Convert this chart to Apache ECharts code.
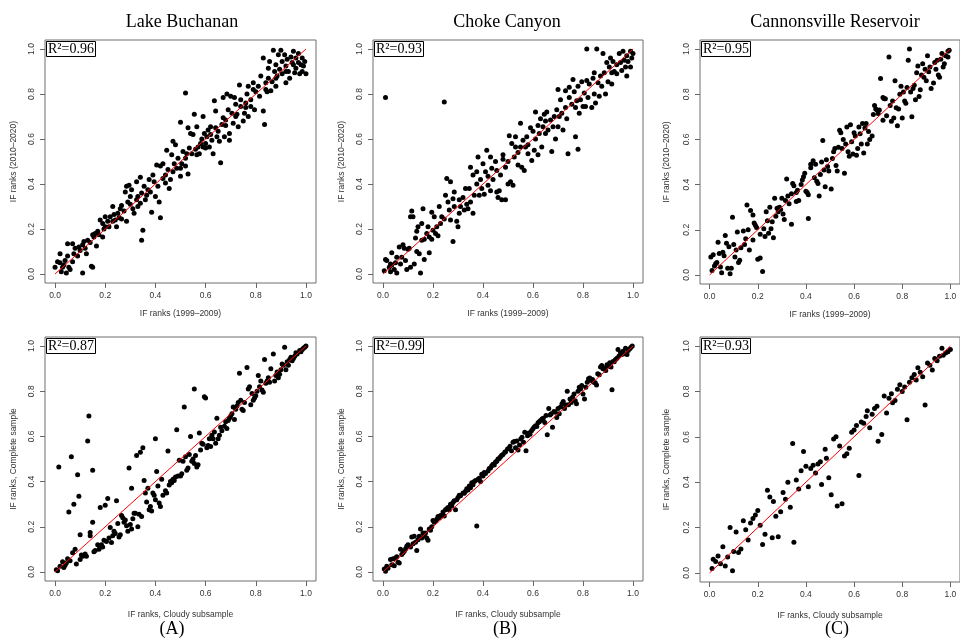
<!DOCTYPE html>
<html>
<head>
<meta charset="utf-8">
<script src="https://cdn.jsdelivr.net/npm/echarts@6/dist/echarts.min.js"></script>
<style>
html, body { margin: 0; padding: 0; background: #fff; }
#chart { width: 960px; height: 638px; }
</style>
</head>
<body>
<div id="chart"></div>
<script>
// texte et graduations
var panelTitles = ['Lake Buchanan', 'Choke Canyon', 'Cannonsville Reservoir'];
var panelLetters = ['(A)', '(B)', '(C)'];
var r2Labels = ['R²=0.96', 'R²=0.93', 'R²=0.95', 'R²=0.87', 'R²=0.99', 'R²=0.93'];
var tickValues = [0, 0.2, 0.4, 0.6, 0.8, 1.0];
var xNames = ['IF ranks (1999–2009)', 'IF ranks, Cloudy subsample'];
var yNames = ['IF ranks (2010–2020)', 'IF ranks, Complete sample'];
var fitLine = [[0, 0], [1, 1]];

// rangs 1999-2009 vs 2010-2020
var buchananPeriods = [
  [0.01,0.055],[0.00,0.03],[0.02,0.05],[0.02,0.09],[0.03,0.03],[0.025,0.01],[0.035,0.04],[0.04,0.06],[0.05,0.08],[0.045,0.005],
  [0.055,0.03],[0.06,0.02],[0.07,0.055],[0.05,0.135],[0.07,0.135],[0.075,0.09],[0.08,0.115],[0.09,0.08],[0.095,0.12],[0.10,0.105],
  [0.11,0.13],[0.115,0.145],[0.12,0.115],[0.11,0.005],[0.125,0.09],[0.13,0.15],[0.14,0.14],[0.145,0.035],[0.15,0.03],[0.15,0.175],
  [0.155,0.165],[0.16,0.18],[0.165,0.125],[0.17,0.19],[0.175,0.175],[0.18,0.24],[0.19,0.225],[0.19,0.165],[0.195,0.2],[0.20,0.255],
  [0.21,0.235],[0.215,0.21],[0.22,0.255],[0.23,0.30],[0.23,0.235],[0.235,0.265],[0.245,0.21],[0.25,0.27],[0.255,0.25],[0.26,0.29],
  [0.265,0.245],[0.265,0.305],[0.275,0.28],[0.28,0.365],[0.285,0.39],[0.285,0.235],[0.29,0.32],[0.295,0.395],[0.30,0.345],[0.305,0.375],
  [0.31,0.29],[0.315,0.27],[0.325,0.33],[0.325,0.41],[0.33,0.345],[0.34,0.315],[0.34,0.43],[0.345,0.36],[0.35,0.195],[0.345,0.15],
  [0.355,0.39],[0.36,0.33],[0.365,0.35],[0.37,0.375],[0.375,0.42],[0.38,0.365],[0.385,0.275],[0.39,0.44],[0.395,0.41],[0.40,0.345],
  [0.405,0.485],[0.41,0.39],[0.415,0.32],[0.42,0.25],[0.42,0.48],[0.43,0.425],[0.43,0.49],[0.44,0.405],[0.445,0.55],[0.45,0.465],
  [0.455,0.38],[0.46,0.42],[0.465,0.53],[0.47,0.59],[0.475,0.49],[0.48,0.575],[0.485,0.47],[0.49,0.515],[0.50,0.435],[0.50,0.675],
  [0.505,0.49],[0.51,0.545],[0.52,0.48],[0.52,0.805],[0.525,0.535],[0.53,0.445],[0.53,0.65],[0.535,0.56],[0.54,0.625],[0.545,0.535],
  [0.55,0.62],[0.555,0.71],[0.56,0.555],[0.565,0.53],[0.565,0.655],[0.57,0.565],[0.575,0.535],[0.585,0.60],[0.59,0.70],[0.59,0.565],
  [0.595,0.625],[0.60,0.58],[0.605,0.61],[0.61,0.64],[0.615,0.565],[0.62,0.655],[0.625,0.595],[0.63,0.535],[0.635,0.77],[0.64,0.725],
  [0.64,0.65],[0.645,0.61],[0.65,0.635],[0.655,0.59],[0.66,0.495],[0.665,0.665],[0.67,0.695],[0.67,0.785],[0.675,0.61],[0.68,0.685],
  [0.685,0.80],[0.69,0.73],[0.695,0.625],[0.695,0.595],[0.70,0.79],[0.705,0.715],[0.71,0.67],[0.715,0.785],[0.72,0.755],[0.725,0.71],
  [0.73,0.655],[0.735,0.84],[0.74,0.745],[0.74,0.775],[0.75,0.68],[0.755,0.715],[0.76,0.76],[0.765,0.80],[0.77,0.70],[0.77,0.835],
  [0.78,0.745],[0.78,0.775],[0.79,0.82],[0.79,0.85],[0.795,0.73],[0.80,0.81],[0.81,0.835],[0.815,0.79],[0.82,0.88],[0.83,0.96],
  [0.83,0.725],[0.835,0.665],[0.84,0.85],[0.845,0.81],[0.85,0.915],[0.85,0.87],[0.855,0.945],[0.86,0.815],[0.865,0.855],[0.87,0.995],
  [0.875,0.90],[0.88,0.835],[0.88,0.93],[0.885,0.88],[0.89,0.975],[0.895,0.91],[0.90,0.995],[0.905,0.945],[0.905,0.89],[0.915,0.975],
  [0.92,0.85],[0.92,0.925],[0.925,0.955],[0.93,0.90],[0.935,0.87],[0.94,0.965],[0.945,0.94],[0.95,0.99],[0.955,0.895],[0.96,0.96],
  [0.96,0.915],[0.97,0.94],[0.97,0.98],[0.975,0.89],[0.98,0.93],[0.985,0.96],[0.985,0.90],[0.99,0.925],[0.995,0.945],[1.0,0.89],
  [0.58,0.58],[0.60,0.56],[0.50,0.47],[0.47,0.455],[0.52,0.515],[0.33,0.30],[0.30,0.31],[0.24,0.24],[0.20,0.21],[0.44,0.44],
  [0.62,0.62],[0.68,0.66],[0.72,0.70],[0.76,0.74],[0.84,0.82],[0.88,0.87],[0.92,0.90],[0.95,0.93]
];
var chokePeriods = [
  [0.01,0.785],[0.245,0.765],[0.15,0.005],[0.28,0.145],
  [0.005,0.015],[0.01,0.065],[0.015,0.06],[0.025,0.03],[0.03,0.045],[0.03,0.01],[0.035,0.04],[0.035,0.095],[0.045,0.02],[0.05,0.05],
  [0.055,0.005],[0.055,0.075],[0.065,0.12],[0.07,0.045],[0.075,0.075],[0.08,0.13],[0.085,0.115],[0.09,0.06],[0.095,0.02],[0.10,0.11],
  [0.105,0.115],[0.11,0.255],[0.115,0.28],[0.11,0.03],[0.12,0.255],[0.125,0.045],[0.13,0.16],[0.135,0.10],[0.135,0.19],[0.14,0.21],
  [0.145,0.09],[0.155,0.15],[0.155,0.225],[0.16,0.29],[0.165,0.065],[0.165,0.155],[0.175,0.18],[0.18,0.21],[0.185,0.095],[0.185,0.165],
  [0.195,0.275],[0.195,0.155],[0.20,0.195],[0.205,0.255],[0.21,0.18],[0.215,0.21],[0.22,0.17],[0.225,0.30],[0.23,0.225],[0.235,0.255],
  [0.245,0.245],[0.25,0.35],[0.255,0.425],[0.26,0.32],[0.265,0.285],[0.27,0.41],[0.27,0.24],[0.28,0.335],[0.285,0.365],[0.285,0.30],
  [0.295,0.235],[0.30,0.21],[0.305,0.33],[0.305,0.27],[0.31,0.30],[0.32,0.34],[0.325,0.285],[0.33,0.38],[0.335,0.31],[0.34,0.29],
  [0.345,0.38],[0.35,0.475],[0.35,0.32],[0.36,0.44],[0.36,0.27],[0.365,0.35],[0.375,0.455],[0.375,0.40],[0.38,0.52],[0.385,0.35],
  [0.39,0.42],[0.395,0.38],[0.40,0.49],[0.405,0.355],[0.41,0.455],[0.415,0.55],[0.42,0.395],[0.42,0.435],[0.43,0.52],[0.43,0.37],
  [0.435,0.47],[0.44,0.42],[0.45,0.50],[0.455,0.365],[0.455,0.46],[0.46,0.34],[0.465,0.37],[0.47,0.44],[0.475,0.33],[0.48,0.51],
  [0.48,0.53],[0.49,0.33],[0.49,0.475],[0.50,0.40],[0.50,0.50],[0.505,0.615],[0.51,0.41],[0.515,0.58],[0.52,0.395],[0.525,0.52],
  [0.53,0.61],[0.53,0.565],[0.54,0.485],[0.54,0.54],[0.55,0.67],[0.55,0.565],[0.555,0.475],[0.56,0.595],[0.565,0.46],[0.57,0.565],
  [0.575,0.61],[0.58,0.535],[0.58,0.575],[0.59,0.65],[0.595,0.505],[0.60,0.635],[0.605,0.55],[0.61,0.72],[0.61,0.60],[0.62,0.66],
  [0.62,0.53],[0.625,0.625],[0.63,0.69],[0.635,0.565],[0.64,0.655],[0.645,0.71],[0.65,0.625],[0.65,0.68],[0.655,0.72],[0.66,0.64],
  [0.67,0.685],[0.675,0.545],[0.68,0.655],[0.685,0.70],[0.69,0.60],[0.695,0.73],[0.70,0.655],[0.70,0.82],[0.705,0.70],[0.71,0.775],
  [0.715,0.715],[0.72,0.64],[0.73,0.74],[0.73,0.815],[0.735,0.69],[0.74,0.535],[0.745,0.785],[0.745,0.83],[0.755,0.755],[0.76,0.865],
  [0.765,0.81],[0.77,0.74],[0.77,0.61],[0.775,0.77],[0.78,0.555],[0.78,0.835],[0.785,0.715],[0.79,0.775],[0.795,0.855],[0.80,0.745],
  [0.805,0.805],[0.81,0.745],[0.815,0.86],[0.815,1.0],[0.82,0.785],[0.825,0.845],[0.835,0.74],[0.84,0.87],[0.845,0.80],[0.845,0.895],
  [0.85,0.76],[0.855,1.0],[0.86,0.85],[0.865,0.79],[0.87,0.88],[0.875,0.835],[0.88,0.98],[0.885,0.895],[0.89,0.80],[0.895,0.94],
  [0.90,0.855],[0.905,0.92],[0.91,0.96],[0.915,0.845],[0.915,0.895],[0.92,0.945],[0.925,0.90],[0.935,0.93],[0.935,0.89],[0.945,0.98],
  [0.95,0.94],[0.955,0.905],[0.96,0.99],[0.965,0.95],[0.97,0.92],[0.975,0.88],[0.975,0.97],[0.98,0.945],[0.99,0.99],[0.99,0.92],
  [0.995,0.96],[1.0,0.98]
];
var cannonsvillePeriods = [
  [0.005,0.08],[0.015,0.09],[0.01,0.02],[0.02,0.04],[0.025,0.05],[0.03,0.055],[0.035,0.145],[0.04,0.095],[0.045,0.035],[0.05,0.01],
  [0.055,0.10],[0.06,0.085],[0.065,0.175],[0.07,0.14],[0.075,0.03],[0.08,0.125],[0.085,0.005],[0.09,0.03],[0.095,0.255],[0.10,0.135],
  [0.105,0.08],[0.11,0.11],[0.115,0.19],[0.12,0.055],[0.125,0.065],[0.13,0.12],[0.14,0.195],[0.145,0.135],[0.15,0.16],[0.155,0.31],
  [0.16,0.20],[0.165,0.11],[0.17,0.285],[0.18,0.265],[0.18,0.155],[0.185,0.23],[0.19,0.22],[0.195,0.21],[0.20,0.07],[0.21,0.075],
  [0.21,0.18],[0.22,0.015],[0.225,0.205],[0.23,0.17],[0.235,0.28],[0.24,0.24],[0.245,0.185],[0.25,0.30],[0.255,0.205],[0.26,0.235],
  [0.265,0.165],[0.27,0.34],[0.275,0.26],[0.28,0.295],[0.285,0.28],[0.29,0.30],[0.295,0.29],[0.30,0.34],[0.305,0.27],[0.31,0.245],
  [0.315,0.33],[0.32,0.425],[0.325,0.35],[0.33,0.315],[0.34,0.36],[0.34,0.225],[0.345,0.405],[0.35,0.395],[0.36,0.365],[0.36,0.325],
  [0.365,0.375],[0.37,0.33],[0.38,0.40],[0.385,0.42],[0.39,0.435],[0.395,0.45],[0.40,0.37],[0.405,0.365],[0.41,0.355],[0.41,0.25],
  [0.42,0.49],[0.42,0.475],[0.43,0.505],[0.435,0.43],[0.44,0.49],[0.445,0.415],[0.45,0.405],[0.455,0.35],[0.46,0.445],[0.465,0.50],
  [0.47,0.595],[0.475,0.465],[0.48,0.39],[0.485,0.51],[0.49,0.48],[0.495,0.46],[0.505,0.38],[0.51,0.515],[0.515,0.545],[0.52,0.56],
  [0.525,0.485],[0.53,0.46],[0.535,0.565],[0.54,0.64],[0.545,0.63],[0.55,0.56],[0.555,0.60],[0.56,0.45],[0.565,0.58],[0.57,0.655],
  [0.575,0.545],[0.58,0.525],[0.585,0.665],[0.59,0.59],[0.595,0.535],[0.60,0.63],[0.605,0.615],[0.61,0.53],[0.615,0.56],[0.62,0.655],
  [0.625,0.625],[0.63,0.58],[0.635,0.67],[0.64,0.54],[0.645,0.65],[0.65,0.67],[0.655,0.58],[0.66,0.635],[0.665,0.60],[0.675,0.615],
  [0.68,0.71],[0.685,0.75],[0.69,0.735],[0.695,0.73],[0.70,0.715],[0.705,0.73],[0.71,0.87],[0.72,0.785],[0.72,0.685],[0.725,0.78],
  [0.73,0.78],[0.735,0.705],[0.745,0.965],[0.75,0.75],[0.755,0.68],[0.76,0.77],[0.765,0.695],[0.77,0.86],[0.775,0.74],[0.78,0.66],
  [0.785,0.735],[0.79,0.80],[0.795,0.835],[0.80,0.695],[0.805,0.81],[0.81,0.77],[0.815,0.76],[0.82,0.83],[0.825,0.95],[0.83,1.0],
  [0.835,0.81],[0.84,0.70],[0.845,0.825],[0.85,0.84],[0.855,0.775],[0.86,0.895],[0.865,0.925],[0.87,0.79],[0.875,0.82],[0.88,0.885],
  [0.885,0.935],[0.89,0.875],[0.895,0.91],[0.90,0.86],[0.905,0.97],[0.91,0.90],[0.915,0.92],[0.92,0.825],[0.93,0.85],[0.935,0.94],
  [0.94,0.91],[0.945,0.95],[0.95,0.885],[0.955,0.875],[0.96,0.955],[0.965,0.98],[0.97,0.92],[0.975,0.935],[0.98,0.97],[0.99,0.99],
  [0.99,0.965],[0.995,0.995]
];

// rangs sous-echantillon nuageux vs echantillon complet
var buchananCloudy = [
  [0.005,0.01],[0.01,0.005],[0.02,0.025],[0.015,0.465],[0.03,0.045],[0.035,0.02],[0.04,0.03],[0.045,0.04],[0.05,0.058],[0.055,0.265],
  [0.06,0.05],[0.065,0.51],[0.07,0.085],[0.075,0.30],[0.08,0.10],[0.085,0.035],[0.09,0.43],[0.095,0.335],[0.10,0.055],[0.10,0.165],
  [0.105,0.075],[0.11,0.07],[0.12,0.08],[0.125,0.07],[0.13,0.58],[0.135,0.69],[0.14,0.175],[0.14,0.16],[0.15,0.22],[0.15,0.45],
  [0.155,0.09],[0.16,0.095],[0.17,0.12],[0.175,0.10],[0.18,0.11],[0.18,0.285],[0.185,0.12],[0.19,0.11],[0.195,0.14],[0.20,0.295],
  [0.205,0.135],[0.21,0.325],[0.215,0.15],[0.22,0.197],[0.225,0.13],[0.23,0.16],[0.235,0.18],[0.24,0.17],[0.245,0.315],[0.25,0.215],
  [0.255,0.155],[0.26,0.165],[0.265,0.25],[0.27,0.24],[0.275,0.22],[0.28,0.23],[0.285,0.205],[0.29,0.18],[0.295,0.46],[0.30,0.21],
  [0.305,0.19],[0.305,0.37],[0.31,0.235],[0.315,0.26],[0.32,0.26],[0.325,0.515],[0.33,0.20],[0.335,0.255],[0.34,0.53],[0.345,0.245],
  [0.35,0.55],[0.355,0.405],[0.36,0.35],[0.365,0.31],[0.37,0.37],[0.375,0.275],[0.38,0.29],[0.385,0.27],[0.39,0.35],[0.395,0.34],
  [0.40,0.32],[0.40,0.59],[0.405,0.445],[0.41,0.38],[0.415,0.305],[0.42,0.29],[0.425,0.41],[0.43,0.34],[0.44,0.36],[0.445,0.35],
  [0.45,0.535],[0.455,0.385],[0.46,0.40],[0.465,0.395],[0.47,0.41],[0.475,0.405],[0.48,0.42],[0.485,0.63],[0.49,0.425],[0.495,0.495],
  [0.50,0.425],[0.505,0.435],[0.51,0.49],[0.515,0.73],[0.52,0.51],[0.525,0.45],[0.53,0.46],[0.535,0.52],[0.54,0.60],[0.545,0.49],
  [0.55,0.50],[0.555,0.48],[0.555,0.81],[0.56,0.515],[0.565,0.465],[0.57,0.475],[0.575,0.615],[0.58,0.54],[0.585,0.57],[0.59,0.565],
  [0.595,0.775],[0.60,0.77],[0.605,0.55],[0.61,0.56],[0.615,0.59],[0.62,0.555],[0.625,0.605],[0.63,0.59],[0.635,0.62],[0.64,0.57],
  [0.645,0.68],[0.65,0.59],[0.655,0.605],[0.66,0.64],[0.665,0.625],[0.675,0.645],[0.68,0.665],[0.685,0.635],[0.69,0.67],[0.695,0.68],
  [0.70,0.69],[0.705,0.70],[0.71,0.73],[0.715,0.675],[0.72,0.72],[0.725,0.735],[0.73,0.75],[0.735,0.88],[0.74,0.76],[0.745,0.72],
  [0.75,0.715],[0.755,0.75],[0.765,0.905],[0.77,0.81],[0.775,0.82],[0.78,0.74],[0.785,0.79],[0.79,0.76],[0.795,0.77],[0.80,0.78],
  [0.805,0.80],[0.81,0.87],[0.815,0.82],[0.82,0.845],[0.825,0.805],[0.83,0.795],[0.835,0.94],[0.84,0.835],[0.845,0.845],[0.85,0.86],
  [0.855,0.84],[0.86,0.90],[0.87,0.965],[0.875,0.845],[0.88,0.87],[0.885,0.885],[0.89,0.86],[0.895,0.875],[0.90,0.895],[0.905,0.92],
  [0.91,0.915],[0.915,0.995],[0.92,0.895],[0.925,0.93],[0.93,0.915],[0.935,0.94],[0.94,0.95],[0.945,0.935],[0.95,0.945],[0.955,0.955],
  [0.96,0.97],[0.965,0.965],[0.975,0.98],[0.98,0.975],[0.985,0.985],[0.99,0.99],[0.995,0.995],[1.0,1.0]
];
var chokeCloudy = [
  [0.005,0.013],[0.01,0.003],[0.015,0.025],[0.02,0.016],[0.03,0.055],[0.035,0.032],[0.04,0.058],[0.045,0.028],[0.05,0.062],[0.055,0.067],
  [0.06,0.043],[0.065,0.04],[0.07,0.10],[0.075,0.077],[0.08,0.085],[0.085,0.092],[0.09,0.102],[0.095,0.114],[0.10,0.12],[0.11,0.11],
  [0.115,0.155],[0.12,0.125],[0.125,0.158],[0.13,0.132],[0.135,0.095],[0.14,0.143],[0.145,0.158],[0.15,0.19],[0.155,0.15],[0.16,0.173],
  [0.165,0.16],[0.17,0.172],[0.175,0.15],[0.18,0.14],[0.185,0.19],[0.19,0.185],[0.195,0.20],[0.20,0.228],[0.205,0.22],[0.21,0.225],
  [0.215,0.233],[0.22,0.245],[0.225,0.24],[0.23,0.25],[0.24,0.265],[0.245,0.248],[0.25,0.275],[0.255,0.28],[0.26,0.285],[0.265,0.275],
  [0.27,0.30],[0.275,0.292],[0.28,0.307],[0.285,0.315],[0.29,0.275],[0.295,0.32],[0.30,0.33],[0.305,0.34],[0.31,0.337],[0.32,0.35],
  [0.325,0.348],[0.33,0.357],[0.335,0.368],[0.34,0.363],[0.345,0.38],[0.35,0.373],[0.355,0.395],[0.36,0.386],[0.365,0.40],[0.37,0.405],
  [0.375,0.203],[0.38,0.41],[0.385,0.415],[0.39,0.40],[0.395,0.432],[0.40,0.425],[0.405,0.44],[0.41,0.436],[0.42,0.447],[0.425,0.458],
  [0.43,0.46],[0.435,0.47],[0.44,0.477],[0.445,0.473],[0.45,0.487],[0.455,0.49],[0.46,0.50],[0.465,0.502],[0.47,0.51],[0.475,0.517],
  [0.48,0.52],[0.487,0.53],[0.49,0.532],[0.498,0.544],[0.503,0.547],[0.508,0.556],[0.514,0.537],[0.52,0.574],[0.525,0.577],[0.53,0.55],
  [0.535,0.58],[0.54,0.54],[0.546,0.562],[0.551,0.589],[0.556,0.596],[0.562,0.574],[0.567,0.618],[0.572,0.537],[0.578,0.603],[0.583,0.615],
  [0.588,0.61],[0.594,0.625],[0.599,0.633],[0.604,0.64],[0.61,0.647],[0.615,0.644],[0.62,0.66],[0.625,0.665],[0.63,0.67],[0.636,0.677],
  [0.641,0.68],[0.647,0.662],[0.652,0.692],[0.657,0.607],[0.663,0.724],[0.668,0.695],[0.673,0.70],[0.678,0.64],[0.684,0.71],[0.689,0.707],
  [0.695,0.684],[0.70,0.724],[0.705,0.70],[0.71,0.73],[0.716,0.744],[0.721,0.754],[0.726,0.724],[0.732,0.739],[0.737,0.80],[0.742,0.74],
  [0.748,0.766],[0.753,0.75],[0.758,0.773],[0.764,0.788],[0.769,0.758],[0.774,0.744],[0.78,0.80],[0.785,0.818],[0.79,0.81],[0.795,0.825],
  [0.80,0.788],[0.806,0.766],[0.811,0.818],[0.817,0.84],[0.822,0.855],[0.827,0.858],[0.833,0.848],[0.838,0.852],[0.843,0.84],[0.849,0.837],
  [0.854,0.827],[0.859,0.877],[0.865,0.873],[0.87,0.907],[0.875,0.914],[0.88,0.90],[0.886,0.903],[0.891,0.892],[0.896,0.917],[0.90,0.91],
  [0.907,0.926],[0.912,0.907],[0.916,0.807],[0.92,0.932],[0.925,0.93],[0.93,0.94],[0.936,0.946],[0.94,0.985],[0.944,0.956],[0.95,0.97],
  [0.955,0.962],[0.96,0.977],[0.965,0.966],[0.97,0.99],[0.976,0.962],[0.981,0.98],[0.987,0.988],[0.992,0.995],[0.997,1.0]
];
var cannonsvilleCloudy = [
  [0.01,0.02],[0.015,0.06],[0.025,0.05],[0.035,0.075],[0.045,0.04],[0.055,0.115],[0.065,0.03],[0.075,0.07],[0.085,0.20],[0.095,0.01],
  [0.10,0.095],[0.11,0.18],[0.12,0.09],[0.13,0.105],[0.14,0.23],[0.15,0.19],[0.16,0.145],[0.17,0.22],[0.18,0.24],[0.19,0.255],
  [0.20,0.275],[0.21,0.21],[0.22,0.125],[0.23,0.17],[0.24,0.365],[0.25,0.335],[0.26,0.155],[0.265,0.315],[0.275,0.25],[0.285,0.16],
  [0.295,0.27],[0.305,0.355],[0.315,0.325],[0.325,0.40],[0.335,0.29],[0.345,0.57],[0.35,0.135],[0.36,0.41],[0.37,0.37],[0.38,0.45],
  [0.39,0.535],[0.40,0.47],[0.41,0.38],[0.42,0.46],[0.43,0.475],[0.44,0.44],[0.45,0.48],[0.46,0.49],[0.465,0.39],[0.48,0.545],
  [0.485,0.505],[0.495,0.42],[0.505,0.345],[0.515,0.59],[0.525,0.60],[0.53,0.295],[0.54,0.56],[0.55,0.305],[0.56,0.515],[0.57,0.525],
  [0.58,0.55],[0.59,0.62],[0.60,0.63],[0.61,0.65],[0.62,0.43],[0.63,0.665],[0.64,0.66],[0.65,0.69],[0.655,0.715],[0.665,0.64],
  [0.675,0.70],[0.685,0.725],[0.695,0.735],[0.70,0.58],[0.715,0.61],[0.725,0.78],[0.735,0.705],[0.745,0.77],[0.755,0.79],[0.76,0.75],
  [0.77,0.76],[0.78,0.81],[0.79,0.83],[0.80,0.80],[0.81,0.82],[0.82,0.675],[0.83,0.84],[0.84,0.86],[0.85,0.875],[0.858,0.85],
  [0.865,0.905],[0.875,0.885],[0.885,0.865],[0.895,0.74],[0.905,0.925],[0.915,0.915],[0.925,0.895],[0.935,0.945],[0.945,0.935],[0.955,0.955],
  [0.965,0.99],[0.97,0.96],[0.98,0.97],[0.99,0.975],[1.0,0.985]
];

var panelData = [buchananPeriods, chokePeriods, cannonsvillePeriods, buchananCloudy, chokeCloudy, cannonsvilleCloudy];

// cadres des 6 graphiques (en px)
var grids = [
  {left: 45, top: 40, width: 271, height: 243},
  {left: 373, top: 40, width: 270, height: 243},
  {left: 700, top: 40, width: 270, height: 244},
  {left: 45, top: 337, width: 271, height: 244},
  {left: 373, top: 337, width: 270, height: 244},
  {left: 700, top: 337, width: 270, height: 245}
];
var titleX = [182, 507, 835];
var letterX = [172, 505, 837];

var sans = 'Liberation Sans';
var serif = 'Liberation Serif';

function makeAxis(i, isX) {
  var row = i < 3 ? 0 : 1;
  var nameGap;
  if (isX) {
    nameGap = row === 0 ? 26 : 29;
  } else {
    nameGap = (i % 3 === 2) ? 29 : 27;
  }
  return {
    type: 'value',
    gridIndex: i,
    min: -0.04,
    max: 1.04,
    name: isX ? xNames[row] : yNames[row],
    nameLocation: 'middle',
    nameGap: nameGap,
    nameTextStyle: {fontFamily: sans, fontSize: 8.5, color: '#333'},
    axisLine: {show: false, onZero: false},  // sinon l'axe se colle sur 0
    splitLine: {show: false},
    axisTick: {show: true, inside: false, length: 5, customValues: tickValues, lineStyle: {color: '#666'}},
    axisLabel: {
      customValues: tickValues,
      formatter: function (v) { return v.toFixed(1); },
      fontFamily: sans,
      fontSize: 8.5,
      color: '#333',
      margin: isX ? 8 : 9,
      rotate: isX ? 0 : 90
    }
  };
}

var series = [];
panelData.forEach(function (pts, i) {
  series.push({
    type: 'scatter',
    xAxisIndex: i,
    yAxisIndex: i,
    data: pts,
    symbolSize: 5,
    itemStyle: {color: '#000', opacity: 1},
    z: 2
  });
  series.push({
    type: 'line',
    xAxisIndex: i,
    yAxisIndex: i,
    data: fitLine,
    symbol: 'none',
    lineStyle: {color: '#ff0000', width: 1},
    z: 3
  });
});

// encadres R2
var r2Titles = r2Labels.map(function (txt, i) {
  return {
    text: txt,
    left: grids[i].left + 1,
    top: grids[i].top + 1,
    padding: [1, 2, 0, 2],
    borderWidth: 1,
    borderColor: '#000',
    backgroundColor: '#fff',
    textStyle: {fontFamily: serif, fontSize: 14, fontWeight: 'normal', color: '#000', lineHeight: 15},
    z: 10
  };
});

var graphics = [];
panelTitles.forEach(function (t, i) {
  graphics.push({
    type: 'text', x: titleX[i], y: 22,
    style: {text: t, font: '18px "' + serif + '"', fill: '#000', align: 'center', verticalAlign: 'middle'}
  });
});
panelLetters.forEach(function (t, i) {
  graphics.push({
    type: 'text', x: letterX[i], y: 629,
    style: {text: t, font: '18px "' + serif + '"', fill: '#000', align: 'center', verticalAlign: 'middle'}
  });
});

var myChart = echarts.init(document.getElementById('chart'));
var option = {
  animation: false,
  backgroundColor: '#fff',
  title: r2Titles,
  graphic: graphics,
  grid: grids.map(function (g) {
    return Object.assign({show: true, borderColor: '#6e6e6e', borderWidth: 1, backgroundColor: 'transparent'}, g);
  }),
  xAxis: grids.map(function (g, i) { return makeAxis(i, true); }),
  yAxis: grids.map(function (g, i) { return makeAxis(i, false); }),
  series: series
};
myChart.setOption(option);
</script>
</body>
</html>
